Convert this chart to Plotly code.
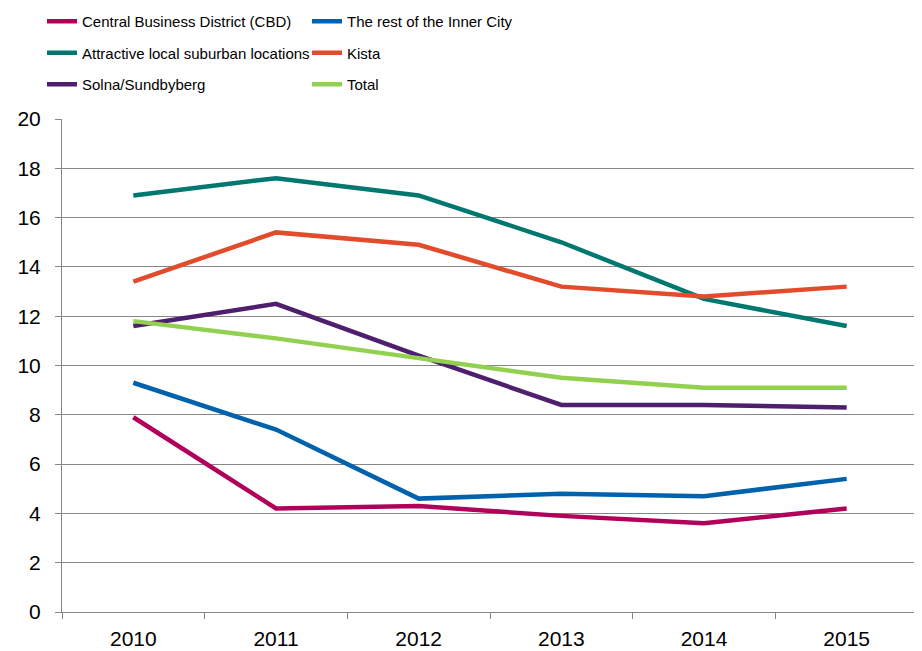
import plotly.graph_objects as go

years = ["2010", "2011", "2012", "2013", "2014", "2015"]
cbd = [7.9, 4.2, 4.3, 3.9, 3.6, 4.2]
inner_city = [9.3, 7.4, 4.6, 4.8, 4.7, 5.4]
attractive = [16.9, 17.6, 16.9, 15.0, 12.7, 11.6]
kista = [13.4, 15.4, 14.9, 13.2, 12.8, 13.2]
solna = [11.6, 12.5, 10.4, 8.4, 8.4, 8.3]
total = [11.8, 11.1, 10.3, 9.5, 9.1, 9.1]

series = [
    ("Central Business District (CBD)", cbd, "#b0005a", "legend"),
    ("The rest of the Inner City", inner_city, "#0062ad", "legend2"),
    ("Attractive local suburban locations", attractive, "#00776f", "legend"),
    ("Kista", kista, "#e24b2b", "legend2"),
    ("Solna/Sundbyberg", solna, "#4d1f6d", "legend"),
    ("Total", total, "#92d050", "legend2"),
]

fig = go.Figure()
for name, vals, color, leg in series:
    fig.add_trace(go.Scatter(
        x=years, y=vals, name=name, mode="lines",
        line=dict(color=color, width=4.5),
        legend=leg, legendgroup=name,
    ))

W, H = 914, 643
legfont = dict(family="Liberation Sans, Arial, sans-serif", size=15, color="#000000")
grey = "#878787"

fig.update_layout(
    width=W, height=H,
    margin=dict(l=54, r=4, t=111, b=39, autoexpand=False),
    paper_bgcolor="white", plot_bgcolor="white",
    font=dict(family="Liberation Sans, Arial, sans-serif", size=21, color="#000000"),
    legend=dict(xref="container", yref="container", x=34 / W, y=1 - 45 / H,
                xanchor="left", yanchor="middle", font=legfont,
                tracegroupgap=9, bgcolor="rgba(0,0,0,0)", itemwidth=30),
    legend2=dict(xref="container", yref="container", x=299 / W, y=1 - 45 / H,
                 xanchor="left", yanchor="middle", font=legfont,
                 tracegroupgap=9, bgcolor="rgba(0,0,0,0)", itemwidth=30),
    xaxis=dict(type="category", range=[-0.5, 5.5], showline=True, linecolor=grey,
               linewidth=1, ticks="outside", tickson="boundaries", ticklen=6,
               tickcolor=grey, tickwidth=1, showgrid=False, tickfont=dict(size=21),
               ticklabelstandoff=8),
    yaxis=dict(range=[0, 20], dtick=2, showline=True, linecolor=grey, linewidth=1,
               ticks="outside", ticklen=6, tickcolor=grey, tickwidth=1,
               showgrid=True, gridcolor=grey, gridwidth=1, zeroline=False,
               tickfont=dict(size=21), ticklabelstandoff=10),
)

fig.write_html("out.html")
